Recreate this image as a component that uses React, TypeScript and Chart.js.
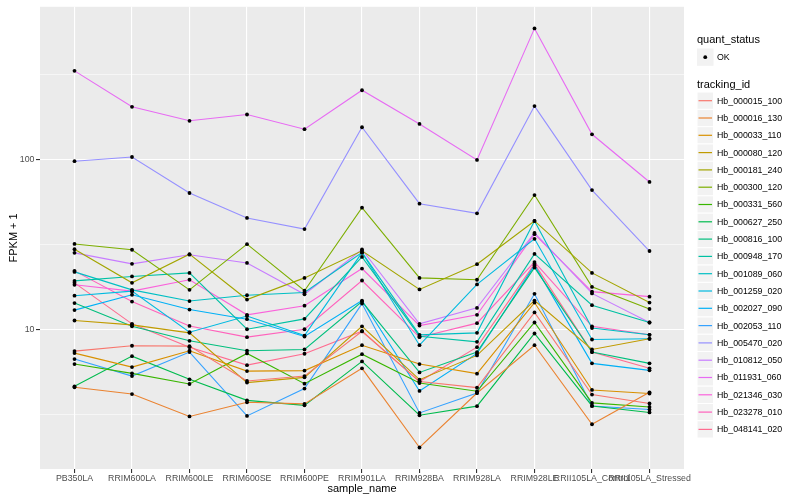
import { useEffect, useRef } from "react";
import { Chart, registerables } from "chart.js";

Chart.register(...registerables);

const sampleNames = [
  "PB350LA", "RRIM600LA", "RRIM600LE", "RRIM600SE", "RRIM600PE", "RRIM901LA",
  "RRIM928BA", "RRIM928LA", "RRIM928LE", "RRII105LA_Control", "RRII105LA_Stressed",
];

const trackingIds = [
  "Hb_000015_100", "Hb_000016_130", "Hb_000033_110", "Hb_000080_120", "Hb_000181_240",
  "Hb_000300_120", "Hb_000331_560", "Hb_000627_250", "Hb_000816_100", "Hb_000948_170",
  "Hb_001089_060", "Hb_001259_020", "Hb_002027_090", "Hb_002053_110", "Hb_005470_020",
  "Hb_010812_050", "Hb_011931_060", "Hb_021346_030", "Hb_023278_010", "Hb_048141_020",
];

const seriesColors = [
  "#F8766D", "#EA8331", "#D89000", "#C09B00", "#A3A500", "#7CAE00", "#39B600", "#00BB4E",
  "#00BF7D", "#00C1A3", "#00BFC4", "#00BAE0", "#00B0F6", "#35A2FF", "#9590FF", "#C77CFF",
  "#E76BF3", "#FA62DB", "#FF62BC", "#FF6C90",
];

// FPKM + 1 per sample, one array per tracking id
const hb000015_100 = [7.47, 8.03, 7.99, 4.99, 5.33, 9.77, 4.95, 4.56, 12.6, 4.15, 3.68];
const hb000016_130 = [4.58, 4.18, 3.09, 3.74, 3.66, 5.92, 2.03, 4.24, 8.09, 2.78, 4.28];
const hb000033_110 = [7.27, 6.02, 7.51, 5.7, 5.74, 8.09, 6.27, 5.51, 14.4, 4.42, 4.21];
const hb000080_120 = [11.3, 10.65, 9.56, 4.88, 5.24, 10.45, 5.08, 7.05, 14.8, 7.64, 8.82];
const hb000181_240 = [29.6, 18.8, 27.7, 15.0, 20.1, 29.0, 17.2, 24.2, 43.4, 21.5, 14.4];
const hb000300_120 = [31.8, 29.4, 17.1, 31.7, 16.9, 51.9, 20.1, 19.6, 61.6, 17.8, 13.2];
const hb000331_560 = [6.27, 5.53, 4.79, 7.24, 4.81, 7.17, 4.85, 4.34, 11.0, 3.71, 3.51];
const hb000627_250 = [4.64, 6.98, 5.1, 3.84, 3.59, 6.5, 3.14, 3.55, 9.48, 3.56, 3.26];
const hb000816_100 = [14.3, 10.45, 8.59, 7.51, 7.64, 14.6, 5.6, 7.37, 23.1, 7.37, 6.33];
const hb000948_170 = [19.3, 20.5, 21.5, 10.04, 11.55, 26.7, 9.14, 8.47, 27.8, 13.9, 11.0];
const hb001089_060 = [21.8, 17.1, 14.7, 15.9, 16.5, 28.3, 9.31, 9.56, 43.4, 10.2, 9.31];
const hb001259_020 = [15.8, 16.8, 9.64, 12.0, 9.22, 28.3, 8.09, 18.4, 34.1, 8.74, 8.82];
const hb002027_090 = [13.0, 16.0, 13.1, 11.5, 9.1, 14.8, 4.36, 7.24, 23.8, 6.33, 5.76];
const hb002053_110 = [6.71, 5.33, 7.37, 3.11, 4.5, 14.2, 3.24, 4.24, 16.2, 3.56, 3.39];
const hb005470_020 = [97.3, 103, 63.3, 45.2, 38.9, 154, 54.8, 48.1, 205, 65.9, 28.9];
const hb010812_050 = [28.2, 24.3, 27.5, 24.6, 16.1, 29.5, 10.8, 13.4, 36.9, 16.3, 11.0];
const hb011931_060 = [330, 203, 168, 183, 150, 254, 161, 99, 586, 140, 73.5];
const hb021346_030 = [18.3, 16.8, 19.6, 12.2, 13.8, 22.8, 10.55, 12.2, 36.3, 16.7, 15.6];
const hb023278_010 = [22.1, 14.6, 10.5, 9.02, 10.04, 19.4, 9.02, 10.9, 24.9, 10.45, 9.31];
const hb048141_020 = [18.8, 10.8, 7.88, 6.18, 7.21, 9.77, 4.95, 7.88, 24.3, 7.37, 5.92];

const seriesValues = [
  hb000015_100, hb000016_130, hb000033_110, hb000080_120, hb000181_240,
  hb000300_120, hb000331_560, hb000627_250, hb000816_100, hb000948_170,
  hb001089_060, hb001259_020, hb002027_090, hb002053_110, hb005470_020,
  hb010812_050, hb011931_060, hb021346_030, hb023278_010, hb048141_020,
];

const yBreaks = [3.1623, 10, 31.623, 100, 316.23];
const yLabelled = [10, 100];

const FONT = '"Liberation Sans", Arial, Helvetica, sans-serif';

const isMajorY = (v: number) => yLabelled.some((m) => Math.abs(m - v) < 1e-6);

const panelBackground = {
  id: "panelBackground",
  beforeDraw(chart: any) {
    const { ctx, chartArea: a } = chart;
    ctx.save();
    ctx.fillStyle = "#EBEBEB";
    ctx.fillRect(a.left, a.top, a.right - a.left, a.bottom - a.top);
    ctx.restore();
  },
};

const pointsOnTop = {
  id: "pointsOnTop",
  afterDatasetsDraw(chart: any) {
    const ctx = chart.ctx;
    ctx.save();
    ctx.fillStyle = "#000000";
    chart.data.datasets.forEach((_: any, i: number) => {
      const meta = chart.getDatasetMeta(i);
      meta.data.forEach((pt: any) => {
        ctx.beginPath();
        ctx.arc(pt.x, pt.y, 1.9, 0, Math.PI * 2);
        ctx.fill();
      });
    });
    ctx.restore();
  },
};

const ggLegend = {
  id: "ggLegend",
  afterDraw(chart: any) {
    const ctx = chart.ctx;
    const left = 697;
    const keyW = 16.5;
    const keyH = 17.3;
    ctx.save();
    ctx.textAlign = "left";
    ctx.textBaseline = "middle";
    ctx.fillStyle = "#000000";
    ctx.font = `11px ${FONT}`;
    ctx.fillText("quant_status", left, 40);

    ctx.fillStyle = "#F2F2F2";
    ctx.fillRect(left, 48.5, keyW, keyH);
    ctx.fillStyle = "#000000";
    ctx.beginPath();
    ctx.arc(left + keyW / 2, 48.5 + keyH / 2, 1.9, 0, Math.PI * 2);
    ctx.fill();
    ctx.font = `8.8px ${FONT}`;
    ctx.fillText("OK", left + 20, 48.5 + keyH / 2);

    ctx.font = `11px ${FONT}`;
    ctx.fillText("tracking_id", left, 85);

    trackingIds.forEach((id, i) => {
      const cy = 100.7 + i * keyH;
      ctx.fillStyle = "#F2F2F2";
      ctx.fillRect(left, cy - keyH / 2, keyW, keyH);
      ctx.strokeStyle = "#FFFFFF";
      ctx.lineWidth = 1;
      ctx.strokeRect(left, cy - keyH / 2, keyW, keyH);
      ctx.strokeStyle = seriesColors[i];
      ctx.lineWidth = 1.2;
      ctx.beginPath();
      ctx.moveTo(left + 1.5, cy);
      ctx.lineTo(left + keyW - 1.5, cy);
      ctx.stroke();
      ctx.fillStyle = "#000000";
      ctx.font = `8.8px ${FONT}`;
      ctx.fillText(id, left + 20, cy + 0.5);
    });
    ctx.restore();
  },
};

export default function App() {
  const canvasRef = useRef<HTMLCanvasElement | null>(null);

  useEffect(() => {
    if (!canvasRef.current) return;
    const datasets = seriesValues.map((vals, i) => ({
      label: trackingIds[i],
      data: vals.map((v, j) => ({ x: j, y: v })),
      borderColor: seriesColors[i],
      backgroundColor: seriesColors[i],
      borderWidth: 1.1,
      pointRadius: 0,
      pointHoverRadius: 0,
      tension: 0,
      fill: false,
    }));

    const chart = new Chart(canvasRef.current, {
      type: "line",
      data: { datasets },
      plugins: [panelBackground, pointsOnTop, ggLegend],
      options: {
        animation: false,
        responsive: false,
        devicePixelRatio: 1,
        layout: { padding: { left: 0, right: 116, top: 5, bottom: 0 } },
        plugins: {
          legend: { display: false },
          tooltip: { enabled: false },
          title: { display: false },
        },
        events: [],
        scales: {
          x: {
            type: "linear",
            min: -0.6,
            max: 10.6,
            bounds: "data",
            afterBuildTicks: (scale: any) => {
              scale.ticks = sampleNames.map((_, i) => ({ value: i }));
            },
            afterFit: (scale: any) => {
              scale.height = 31;
            },
            ticks: {
              autoSkip: false,
              maxRotation: 0,
              minRotation: 0,
              padding: 0,
              color: "#4D4D4D",
              font: { family: FONT, size: 8.8 },
              callback: (v: any) => sampleNames[Math.round(Number(v))] ?? "",
            },
            grid: {
              color: "#FFFFFF",
              lineWidth: 1.1,
              tickColor: "#333333",
              tickLength: 4,
              drawTicks: true,
            },
            border: { display: false },
            title: {
              display: true,
              text: "sample_name",
              color: "#000000",
              font: { family: FONT, size: 11 },
              padding: { top: 0, bottom: 4 },
            },
          },
          y: {
            type: "logarithmic",
            min: 1.518,
            max: 784.7,
            bounds: "data",
            afterBuildTicks: (scale: any) => {
              scale.ticks = yBreaks.map((v) => ({ value: v }));
            },
            afterFit: (scale: any) => {
              scale.width = 40;
            },
            ticks: {
              padding: 1.5,
              color: "#4D4D4D",
              font: { family: FONT, size: 8.8 },
              callback: (v: any) => (isMajorY(Number(v)) ? String(Math.round(Number(v))) : ""),
            },
            grid: {
              color: "#FFFFFF",
              lineWidth: (c: any) => (c.tick && isMajorY(c.tick.value) ? 1.1 : 0.55),
              tickColor: (c: any) =>
                c.tick && isMajorY(c.tick.value) ? "#333333" : "rgba(0,0,0,0)",
              tickLength: 4,
              drawTicks: true,
            },
            border: { display: false },
            title: {
              display: true,
              text: "FPKM + 1",
              color: "#000000",
              font: { family: FONT, size: 11 },
              padding: { top: 7, bottom: 4 },
            },
          },
        },
      } as any,
    });
    return () => chart.destroy();
  }, []);

  return (
    <div style={{ position: "absolute", left: 0, top: 0, width: 800, height: 500, background: "#FFFFFF" }}>
      <canvas ref={canvasRef} width={800} height={500} />
    </div>
  );
}
